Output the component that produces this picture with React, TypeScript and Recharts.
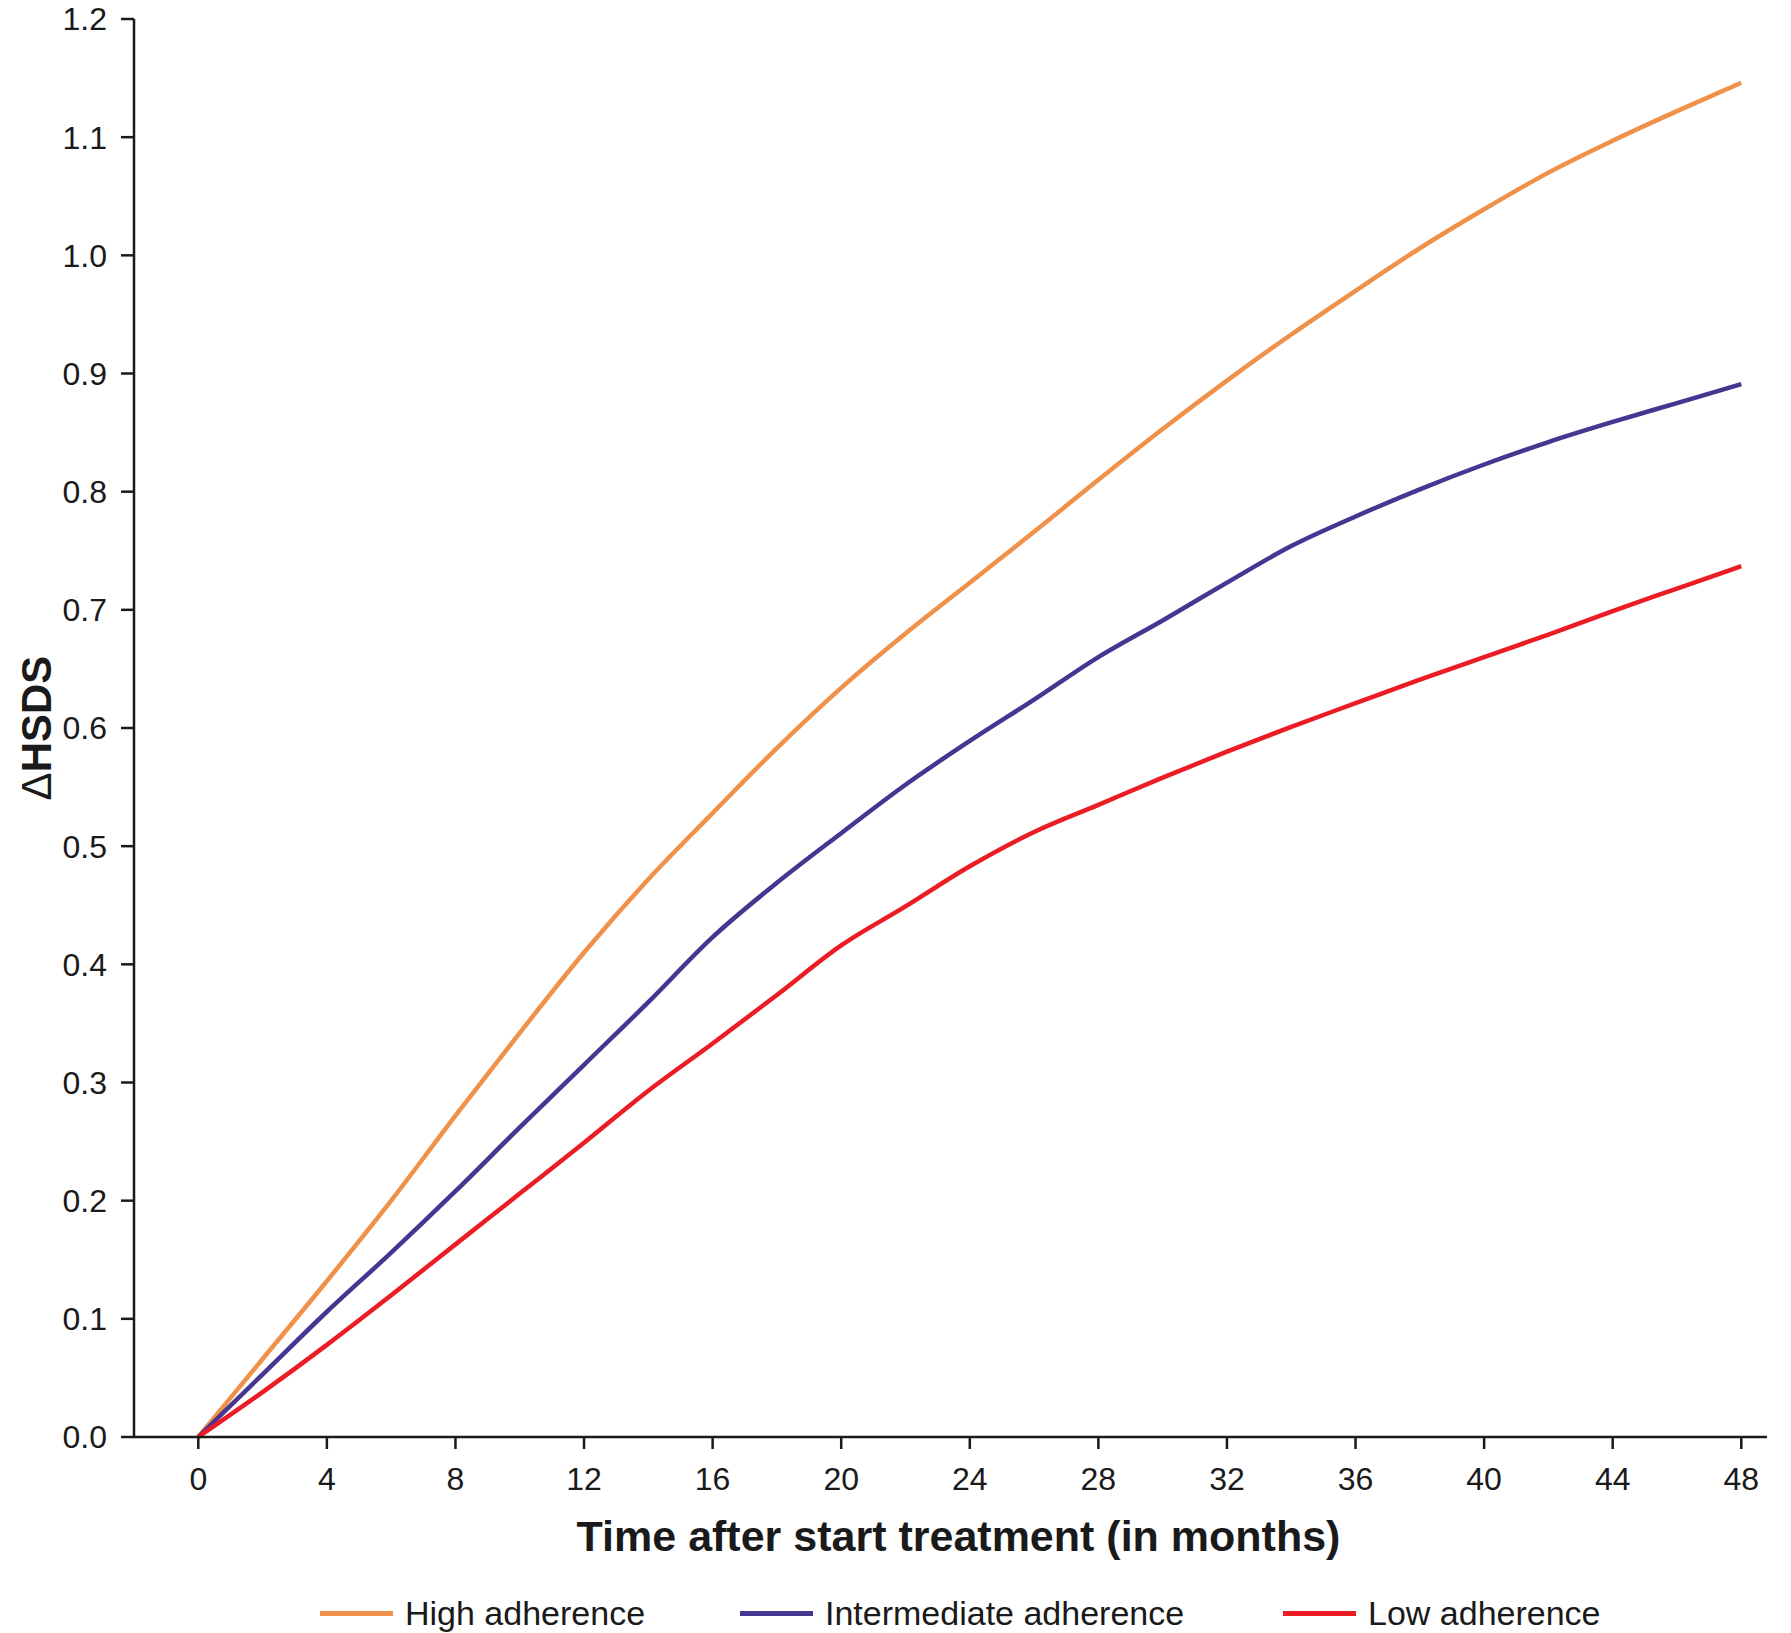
import React from 'react';
import { LineChart, Line, XAxis, YAxis, Legend, Label } from 'recharts';

// months after start of treatment
const months = [0, 2, 4, 6, 8, 10, 12, 14, 16, 18, 20, 22, 24, 26, 28, 30, 32, 34, 36, 38, 40, 42, 44, 46, 48];

// delta HSDS per adherence group
const highAdherence = [0, 0.066, 0.132, 0.2, 0.272, 0.342, 0.41, 0.472, 0.528, 0.583, 0.634, 0.68, 0.723, 0.766, 0.81, 0.853, 0.894, 0.933, 0.97, 1.006, 1.039, 1.07, 1.097, 1.122, 1.146];
const intermediateAdherence = [0, 0.053, 0.106, 0.156, 0.208, 0.262, 0.315, 0.368, 0.423, 0.469, 0.511, 0.552, 0.589, 0.624, 0.66, 0.691, 0.723, 0.754, 0.779, 0.802, 0.823, 0.842, 0.859, 0.875, 0.891];
const lowAdherence = [0, 0.038, 0.078, 0.12, 0.163, 0.206, 0.249, 0.293, 0.333, 0.374, 0.416, 0.449, 0.483, 0.512, 0.535, 0.558, 0.58, 0.601, 0.621, 0.641, 0.66, 0.679, 0.699, 0.718, 0.737];

const xTicks = [0, 4, 8, 12, 16, 20, 24, 28, 32, 36, 40, 44, 48];
const yTicks = [0, 0.1, 0.2, 0.3, 0.4, 0.5, 0.6, 0.7, 0.8, 0.9, 1.0, 1.1, 1.2];

const seriesNames = ['High adherence', 'Intermediate adherence', 'Low adherence'];
const seriesColors = ['#F0914A', '#463591', '#EC1C24'];
const seriesKeys = ['high', 'intermediate', 'low'];

const FONT = '"Liberation Sans", Arial, Helvetica, sans-serif';

const data = months.map((m, i) => ({
    month: m,
    high: highAdherence[i],
    intermediate: intermediateAdherence[i],
    low: lowAdherence[i],
}));

// legend item positions (x of line start) in chart pixels
const legendX = [320, 740, 1283];

const LegendContent = () => (
    <div style={{ position: 'relative', height: 40, width: 1791 }}>
        {seriesNames.map((name, i) => (
            <div
                key={name}
                style={{ position: 'absolute', left: legendX[i], top: 0, height: 40, display: 'flex', alignItems: 'center' }}
            >
                <div style={{ width: 73, height: 5, background: seriesColors[i] }} />
                <span style={{ marginLeft: 12, fontFamily: FONT, fontSize: 34, color: '#1a1a1a' }}>{name}</span>
            </div>
        ))}
    </div>
);

const YTitle = (props: any) => {
    const vb = props.viewBox || { x: 0, y: 0, width: 0, height: 0 };
    const cx = vb.x + 36;
    const cy = vb.y + vb.height / 2;
    return (
        <text
            x={cx}
            y={cy}
            transform={`rotate(-90, ${cx}, ${cy})`}
            textAnchor="middle"
            dominantBaseline="central"
            fontFamily={FONT}
            fontSize={42}
            fill="#1a1a1a"
        >
            <tspan fontWeight="normal">Δ</tspan>
            <tspan fontWeight="bold">HSDS</tspan>
        </text>
    );
};

const XTitle = (props: any) => {
    const vb = props.viewBox || { x: 0, y: 0, width: 0, height: 0 };
    return (
        <text
            x={vb.x + vb.width / 2 + 8}
            y={vb.y + vb.height - 42}
            textAnchor="middle"
            fontFamily={FONT}
            fontSize={43}
            fontWeight="bold"
            fill="#1a1a1a"
        >
            Time after start treatment (in months)
        </text>
    );
};

const App: React.FC = () => {
    return (
        <div style={{ position: 'absolute', left: 0, top: 0, background: '#fff' }}>
            <LineChart
                width={1791}
                height={1633}
                data={data}
                margin={{ top: 19, right: 24, left: 0, bottom: 0 }}
            >
                <XAxis
                    dataKey="month"
                    type="number"
                    domain={[-2, 48.8]}
                    ticks={xTicks}
                    allowDataOverflow
                    height={156}
                    stroke="#1a1a1a"
                    strokeWidth={2.5}
                    tickSize={12}
                    tickMargin={18}
                    tick={{ fontFamily: FONT, fontSize: 32, fill: '#1a1a1a' }}
                >
                    <Label content={<XTitle />} />
                </XAxis>
                <YAxis
                    type="number"
                    domain={[0, 1.2]}
                    ticks={yTicks}
                    width={134}
                    stroke="#1a1a1a"
                    strokeWidth={2.5}
                    tickSize={13}
                    tickMargin={14}
                    tickFormatter={(v: number) => v.toFixed(1)}
                    tick={{ fontFamily: FONT, fontSize: 32, fill: '#1a1a1a' }}
                >
                    <Label content={<YTitle />} />
                </YAxis>
                <Legend verticalAlign="bottom" content={<LegendContent />} wrapperStyle={{ height: 40 }} />
                {seriesKeys.map((key, i) => (
                    <Line
                        key={key}
                        dataKey={key}
                        name={seriesNames[i]}
                        type="monotone"
                        stroke={seriesColors[i]}
                        strokeWidth={4.5}
                        dot={false}
                        activeDot={false}
                        isAnimationActive={false}
                    />
                ))}
            </LineChart>
        </div>
    );
};

export default App;
